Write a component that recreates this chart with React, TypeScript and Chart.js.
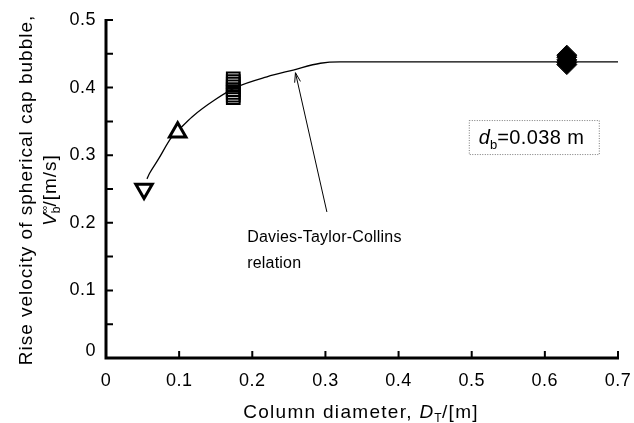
import React, { useEffect, useRef } from "react";
import { Chart, registerables } from "chart.js";

Chart.register(...registerables);

// Measured rise velocities (column diameter D_T [m], V_b [m/s])
const xDown = [0.052];
const yDown = [0.25];
const xUp = [0.098];
const yUp = [0.334];
const xSquare = [0.174, 0.174, 0.174, 0.174, 0.174, 0.174, 0.174, 0.174];
const ySquare = [0.385, 0.389, 0.393, 0.397, 0.401, 0.405, 0.409, 0.413];
const xDiamond = [0.63, 0.63, 0.63, 0.63, 0.63];
const yDiamond = [0.434, 0.437, 0.441, 0.445, 0.448];

// Davies-Taylor-Collins relation
const curveX = [0.056, 0.06, 0.071, 0.09, 0.1, 0.118, 0.149, 0.179, 0.22, 0.256, 0.293, 0.32, 0.7];
const curveY = [0.265, 0.274, 0.293, 0.327, 0.338, 0.357, 0.382, 0.401, 0.416, 0.426, 0.436, 0.438, 0.438];

const xTicks = [0, 0.1, 0.2, 0.3, 0.4, 0.5, 0.6, 0.7];
const yTickLabels = [0, 0.1, 0.2, 0.3, 0.4, 0.5];
const yMinorTicks = [0.05, 0.1, 0.15, 0.2, 0.25, 0.3, 0.35, 0.4, 0.45, 0.5];

const FONT = '"Liberation Sans", Arial, Helvetica, sans-serif';

const pts = (xs: number[], ys: number[]) => xs.map((x, i) => ({ x, y: ys[i] }));

type Part = { t: string; f: string; dy: number; ls?: number; noAdvance?: boolean };

// measures a run of mixed-font text
function runWidth(ctx: any, parts: Part[]) {
  let w = 0;
  parts.forEach((p) => {
    ctx.font = p.f;
    ctx.letterSpacing = `${p.ls ?? 0}px`;
    if (!p.noAdvance) w += ctx.measureText(p.t).width;
  });
  return w;
}
// draws a run of mixed-font text starting at x
function drawRun(ctx: any, parts: Part[], x: number, y: number) {
  parts.forEach((p) => {
    ctx.font = p.f;
    ctx.letterSpacing = `${p.ls ?? 0}px`;
    ctx.fillText(p.t, x, y + p.dy);
    if (!p.noAdvance) x += ctx.measureText(p.t).width;
  });
  ctx.letterSpacing = "0px";
}

const axesPlugin = {
  id: "axesPlugin",
  afterDraw(chart: any) {
    const ctx = chart.ctx as any;
    const xs = chart.scales.x;
    const ys = chart.scales.y;
    const x0 = xs.getPixelForValue(0);
    const x7 = xs.getPixelForValue(0.7);
    const y0 = ys.getPixelForValue(0);
    const y5 = ys.getPixelForValue(0.5);
    ctx.save();
    ctx.strokeStyle = "#000";
    ctx.fillStyle = "#000";
    ctx.lineCap = "butt";

    // axis lines
    ctx.lineWidth = 3;
    ctx.beginPath();
    ctx.moveTo(x0, y5 - 1);
    ctx.lineTo(x0, y0);
    ctx.lineTo(x7 + 1, y0);
    ctx.stroke();

    // inward ticks
    ctx.lineWidth = 2;
    ctx.beginPath();
    yMinorTicks.forEach((v) => {
      const py = ys.getPixelForValue(v);
      ctx.moveTo(x0, py);
      ctx.lineTo(x0 + 7, py);
    });
    xTicks.slice(1).forEach((v) => {
      const px = xs.getPixelForValue(v);
      ctx.moveTo(px, y0);
      ctx.lineTo(px, y0 - 7);
    });
    ctx.stroke();

    // tick labels
    ctx.font = `18px ${FONT}`;
    ctx.letterSpacing = "0.5px";
    ctx.textAlign = "right";
    ctx.textBaseline = "middle";
    yTickLabels.forEach((v) => {
      const py = ys.getPixelForValue(v) - (v === 0 ? 7 : 0);
      ctx.fillText(String(v), x0 - 10, py);
    });
    ctx.textAlign = "center";
    ctx.textBaseline = "middle";
    xTicks.forEach((v) => {
      ctx.fillText(String(v), xs.getPixelForValue(v), y0 + 23);
    });
    ctx.letterSpacing = "0px";

    // x-axis title: Column diameter, D_T/[m]
    {
      const cx = 361;
      const by = y0 + 60;
      const parts: Part[] = [
        { t: "Column diameter, ", f: `19px ${FONT}`, dy: 0, ls: 1.3 },
        { t: "D", f: `italic 19px ${FONT}`, dy: 0, ls: 1 },
        { t: "T", f: `12px ${FONT}`, dy: 4, ls: 0.5 },
        { t: "/[m]", f: `19px ${FONT}`, dy: 0, ls: 1.3 },
      ];
      ctx.textAlign = "left";
      ctx.textBaseline = "alphabetic";
      const w = runWidth(ctx, parts);
      drawRun(ctx, parts, cx - w / 2, by);
    }

    // y-axis title, two rotated lines
    {
      ctx.save();
      ctx.translate(32, 190);
      ctx.rotate(-Math.PI / 2);
      ctx.textAlign = "left";
      ctx.textBaseline = "alphabetic";
      const line1: Part[] = [{ t: "Rise velocity of spherical cap bubble,", f: `19px ${FONT}`, dy: 0, ls: 1 }];
      const w1 = runWidth(ctx, line1);
      drawRun(ctx, line1, -w1 / 2, 0);
      const line2: Part[] = [
        { t: "V", f: `italic 19px ${FONT}`, dy: 0, ls: 0 },
        { t: "\u221E", f: `11px ${FONT}`, dy: -8, ls: 0, noAdvance: true },
        { t: "b", f: `12px ${FONT}`, dy: 4, ls: 0 },
        { t: "/[m/s]", f: `19px ${FONT}`, dy: 0, ls: 1 },
      ];
      const w2 = runWidth(ctx, line2);
      drawRun(ctx, line2, -w2 / 2, 24);
      ctx.restore();
    }

    // d_b annotation box
    {
      const bx = xs.getPixelForValue(0.496);
      const by = ys.getPixelForValue(0.352);
      const bw = 130;
      const bh = 34;
      ctx.save();
      ctx.strokeStyle = "#777";
      ctx.lineWidth = 1;
      ctx.setLineDash([1, 1.5]);
      ctx.strokeRect(bx + 0.5, by + 0.5, bw, bh);
      ctx.restore();
      const parts: Part[] = [
        { t: "d", f: `italic 20px ${FONT}`, dy: 0, ls: 0 },
        { t: "b", f: `13px ${FONT}`, dy: 5, ls: 0 },
        { t: "=0.038 m", f: `20px ${FONT}`, dy: 0, ls: 0.4 },
      ];
      ctx.textAlign = "left";
      ctx.textBaseline = "alphabetic";
      drawRun(ctx, parts, bx + 10, by + 24);
    }

    // relation label and arrow
    {
      ctx.font = `16px ${FONT}`;
      ctx.letterSpacing = "0.2px";
      ctx.textAlign = "left";
      ctx.textBaseline = "middle";
      const tx = xs.getPixelForValue(0.193);
      ctx.fillText("Davies-Taylor-Collins", tx, ys.getPixelForValue(0.178));
      ctx.fillText("relation", tx, ys.getPixelForValue(0.139));
      ctx.letterSpacing = "0px";

      const ax1 = xs.getPixelForValue(0.302);
      const ay1 = ys.getPixelForValue(0.216);
      const ax2 = xs.getPixelForValue(0.259);
      const ay2 = ys.getPixelForValue(0.422);
      ctx.lineWidth = 1;
      ctx.beginPath();
      ctx.moveTo(ax1, ay1);
      ctx.lineTo(ax2, ay2);
      const ang = Math.atan2(ay2 - ay1, ax2 - ax1);
      const hl = 10;
      const spread = 0.3;
      ctx.moveTo(ax2, ay2);
      ctx.lineTo(ax2 - hl * Math.cos(ang - spread), ay2 - hl * Math.sin(ang - spread));
      ctx.moveTo(ax2, ay2);
      ctx.lineTo(ax2 - hl * Math.cos(ang + spread), ay2 - hl * Math.sin(ang + spread));
      ctx.stroke();
    }
    ctx.restore();
  },
};

export default function App() {
  const canvasRef = useRef<HTMLCanvasElement | null>(null);

  useEffect(() => {
    const canvas = canvasRef.current;
    if (!canvas) return;
    const chart = new Chart(canvas, {
      type: "scatter",
      data: {
        datasets: [
          {
            label: "Davies-Taylor-Collins",
            data: pts(curveX, curveY),
            showLine: true,
            borderColor: "#000",
            borderWidth: 1.3,
            pointRadius: 0,
            cubicInterpolationMode: "monotone",
            order: 5,
          },
          {
            label: "D_T = 0.05 m",
            data: pts(xDown, yDown),
            pointStyle: "triangle",
            rotation: 180,
            pointRadius: 9.5,
            backgroundColor: "#fff",
            borderColor: "#000",
            borderWidth: 3,
            order: 1,
          },
          {
            label: "D_T = 0.1 m",
            data: pts(xUp, yUp),
            pointStyle: "triangle",
            pointRadius: 9.5,
            backgroundColor: "#fff",
            borderColor: "#000",
            borderWidth: 3,
            order: 1,
          },
          {
            label: "D_T = 0.17 m",
            data: pts(xSquare, ySquare),
            pointStyle: "rect",
            pointRadius: 9,
            backgroundColor: "rgba(255,255,255,0)",
            borderColor: "#000",
            borderWidth: 2,
            order: 1,
          },
          {
            label: "D_T = 0.63 m",
            data: pts(xDiamond, yDiamond),
            pointStyle: "rectRot",
            pointRadius: 10,
            backgroundColor: "#000",
            borderColor: "#000",
            borderWidth: 1,
            order: 1,
          },
        ],
      },
      options: {
        animation: false,
        responsive: false,
        layout: { padding: { left: 106, right: 16, top: 20, bottom: 65 } },
        plugins: { legend: { display: false }, tooltip: { enabled: false } },
        scales: {
          x: {
            type: "linear",
            min: 0,
            max: 0.7,
            grid: { display: false, drawTicks: false },
            border: { display: false },
            ticks: { display: false },
          },
          y: {
            type: "linear",
            min: 0,
            max: 0.5,
            grid: { display: false, drawTicks: false },
            border: { display: false },
            ticks: { display: false },
          },
        },
      },
      plugins: [axesPlugin],
    });
    return () => chart.destroy();
  }, []);

  return (
    <div style={{ position: "fixed", left: 0, top: 0, width: 634, height: 423, background: "#fff" }}>
      <canvas ref={canvasRef} width={634} height={423} />
    </div>
  );
}
